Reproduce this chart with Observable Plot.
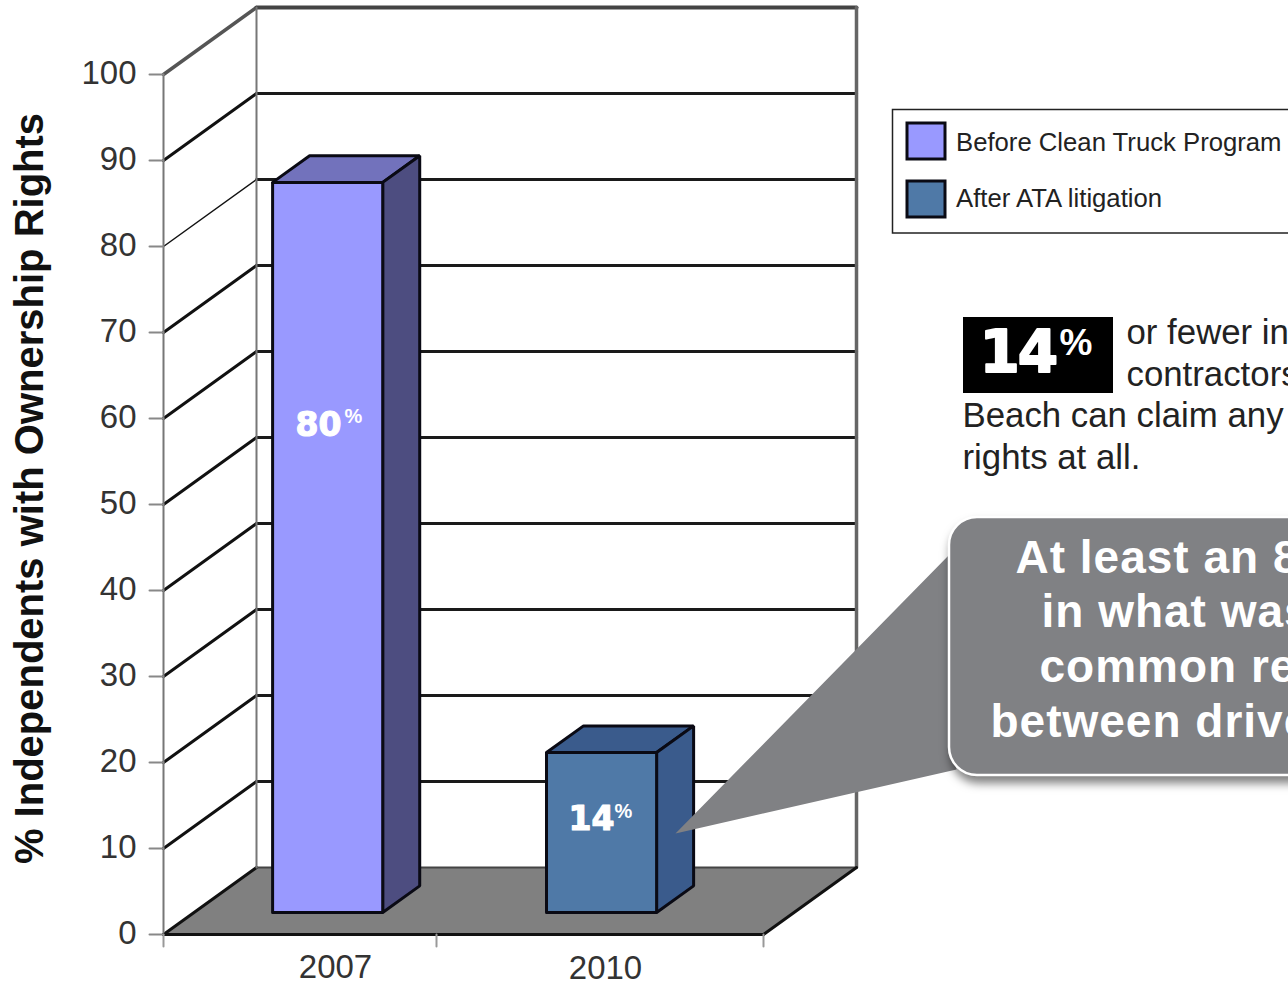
<!DOCTYPE html>
<html><head><meta charset="utf-8">
<script src="https://cdn.jsdelivr.net/npm/d3@7"></script>
<script src="https://cdn.jsdelivr.net/npm/@observablehq/plot@0.6"></script>
<style>html,body{margin:0;padding:0;background:#fff;overflow:hidden}svg{display:block}</style>
</head><body><div id="chart"></div>
<script>
// Data
const yTicks = [0,10,20,30,40,50,60,70,80,90,100];
const categories = ["2007","2010"];
const barValues = [84.9,18.6];
const barLabels = ["80","14"];
const barStart = [0.262,1.175];
const barFront = ["#9999ff","#4f79a7"];
const barTop = ["#7272bc","#3a5b8c"];
const barSide = ["#4d4d80","#3a5b8c"];
const xTicks = [0,0.91,2];
const legendLabels = ["Before Clean Truck Program","After ATA litigation"];
const yTitle = "% Independents with Ownership Rights";
const noteLines = ["or fewer in","contractors","Beach can claim any","rights at all."];
const calloutLines = ["At least an 8","in what was","common re","between drive"];

// Chart geometry in scale units
const PXU = 300, PYU = 8.6, X0 = 163, Y0 = 934, W = 1288, H = 982;
const depthX = 93/PXU, depthY = 67/PYU;
const xMax = 2;
const P = (x,d,v) => ({x: x + d*depthX, y: v + d*depthY});
const sx = p => (p - X0)/PXU, sy = p => (Y0 - p)/PYU;
const A = (px,py) => ({x: sx(px), y: sy(py)});
const F = {fontFamily:"'Liberation Sans',Arial,sans-serif"};
const face = (pts,fill,stroke,sw=2.5) => Plot.line([...pts,pts[0]],{x:"x",y:"y",fill,stroke,strokeWidth:sw,strokeLinejoin:"miter"});
const seg = (a,b,stroke,sw) => Plot.line([a,b],{x:"x",y:"y",stroke,strokeWidth:sw});

const barD0 = 0.328, barD1 = 0.726, barW = 0.367;
const marks = [];
// floor
marks.push(face([P(0,0,0),P(xMax,0,0),P(xMax,1,0),P(0,1,0)],"#808080","none",0));
// walls
for (const v of yTicks) {
  const c = v===100 ? "#555" : "#111";
  const w = v===100 ? 3.5 : (v===80 ? 1.5 : 3);
  marks.push(seg(P(0,0,v),P(0,1,v),c,w));
  if (v>0) marks.push(seg(P(0,1,v),P(xMax,1,v),v===100?"#444":"#1a1a1a",v===100?4:3));
}
marks.push(seg(P(0,1,0),P(xMax,1,0),"#444",2));
marks.push(seg(P(0,0,0),P(0,0,100),"#777",2));
marks.push(seg(P(0,1,0),P(0,1,100),"#777",2));
marks.push(seg(P(xMax,1,0),P(xMax,1,100),"#666",3.5));
marks.push(seg(P(0,0,0),P(xMax,0,0),"#111",3));
marks.push(seg(P(xMax,0,0),P(xMax,1,0),"#111",3));
// ticks
for (const v of yTicks) marks.push(seg({x:sx(149),y:v},{x:0,y:v},"#888",2));
for (const t of xTicks) marks.push(seg({x:t,y:0},{x:t,y:sy(946)},"#999",2));
marks.push(Plot.text(yTicks,{x:sx(136),y:d=>d,text:d=>String(d),textAnchor:"end",fontSize:33,fill:"#333",...F,dy:-1.5}));
// bars
barValues.forEach((v,i)=>{
  const x0=barStart[i], x1=x0+barW;
  marks.push(face([P(x0,barD0,v),P(x1,barD0,v),P(x1,barD1,v),P(x0,barD1,v)],barTop[i],"#0a0a14",3));
  marks.push(face([P(x1,barD0,0),P(x1,barD1,0),P(x1,barD1,v),P(x1,barD0,v)],barSide[i],"#0a0a14",3));
  marks.push(face([P(x0,barD0,0),P(x1,barD0,0),P(x1,barD0,v),P(x0,barD0,v)],barFront[i],"#0a0a14",3));
});
// bar labels
const bl = [{px:295,py:428,pp:344,pq:418},{px:568,py:822,pp:614,pq:813}];
barLabels.forEach((t,i)=>{
  marks.push(Plot.text([t],{x:sx(bl[i].px),y:sy(bl[i].py),text:d=>d,textAnchor:"start",lineAnchor:"bottom",fontSize:33,fontWeight:700,fontFamily:"'DejaVu Sans'",fill:"#fff",stroke:"#fff",strokeWidth:1.2,dy:7}));
  marks.push(Plot.text(["%"],{x:sx(bl[i].pp),y:sy(bl[i].pq),text:d=>d,textAnchor:"start",lineAnchor:"bottom",fontSize:20,fontWeight:700,...F,fill:"#fff",dy:4}));
});
// category labels
const catX = [335,605], catY = [967,968];
categories.forEach((c,i)=>marks.push(Plot.text([c],{x:sx(catX[i]),y:sy(catY[i]),text:d=>d,fontSize:33,fill:"#333",...F})));
// y title
marks.push(Plot.text([yTitle],{x:sx(30),y:sy(488),text:d=>d,rotate:-90,fontSize:40,fontWeight:700,fill:"#111",...F}));
// legend
marks.push(Plot.rect([0],{x1:sx(892.5),x2:sx(1400),y1:sy(109.5),y2:sy(233),fill:"#fff",stroke:"#222",strokeWidth:1.5}));
const legY = [[123,159],[181,217]];
legendLabels.forEach((l,i)=>{
  marks.push(Plot.rect([0],{x1:sx(907),x2:sx(945),y1:sy(legY[i][0]),y2:sy(legY[i][1]),fill:barFront[i],stroke:"#0a0a14",strokeWidth:3}));
  marks.push(Plot.text([l],{x:sx(955.5),y:sy(142+i*56),text:d=>d,textAnchor:"start",fontSize:25.7,fill:"#222",...F}));
});
// note block
marks.push(Plot.rect([0],{x1:sx(963),x2:sx(1113),y1:sy(317),y2:sy(393),fill:"#000"}));
marks.push(Plot.text(["14"],{x:sx(979),y:sy(353),text:d=>d,textAnchor:"start",fontSize:58,fontWeight:700,fontFamily:"'DejaVu Sans'",fill:"#fff",stroke:"#fff",strokeWidth:2,ariaLabel:"big14"}));
marks.push(Plot.text(["%"],{x:sx(1059),y:sy(343),text:d=>d,textAnchor:"start",fontSize:37,fontWeight:700,...F,fill:"#fff"}));
const noteX=[1126,1126,962,962], noteY=[332,374,415,457];
noteLines.forEach((l,i)=>marks.push(Plot.text([l],{x:sx(noteX[i]),y:sy(noteY[i]),text:d=>d,textAnchor:"start",fontSize:34.8,fill:"#222",...F})));
// callout
marks.push(face([A(675,833),A(950,553),A(952,700),A(956,769)],"#808184","none",0));
marks.push(Plot.rect([0],{x1:sx(949),x2:sx(1400),y1:sy(517),y2:sy(775),rx:28,fill:"#808184",stroke:"#fff",strokeWidth:2.5}));
const callX=[1015,1041,1039,990], callY=[558,612,667,722];
calloutLines.forEach((l,i)=>marks.push(Plot.text([l],{x:sx(callX[i]),y:sy(callY[i]),text:d=>d,textAnchor:"start",fontSize:46,fontWeight:700,fill:"#fff",...F})));

const chart = Plot.plot({
  width:W,height:H,margin:0,
  x:{type:"linear",domain:[sx(0),sx(W)],range:[0,W],axis:null},
  y:{type:"linear",domain:[sy(H),sy(0)],range:[H,0],axis:null},
  style:{background:"#fff",overflow:"hidden"},
  marks
});
document.getElementById("chart").appendChild(chart);
d3.select(chart).selectAll('rect[rx]').each(function(){ d3.select(this.parentNode).style("filter","drop-shadow(2px 7px 5px rgba(0,0,0,.5))"); });
d3.select(chart).selectAll('text').each(function(){
  const t = this.textContent;
  if (calloutLines.includes(t)) this.style.letterSpacing = "1px";
  if (t === "14" && this.parentNode.getAttribute("font-size") === "58") this.style.letterSpacing = "-2px";
});
</script></body></html>
